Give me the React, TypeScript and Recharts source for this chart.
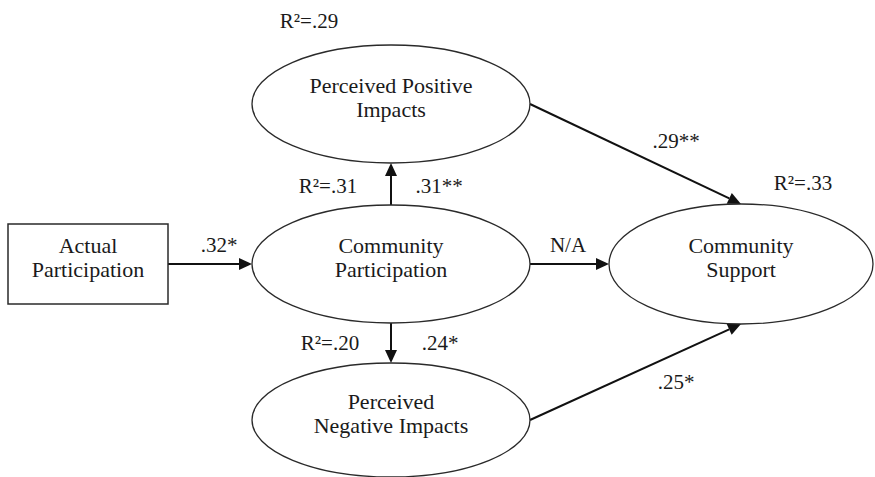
import { ScatterChart, Scatter, XAxis, YAxis, ReferenceLine } from "recharts";

const W = 875;
const H = 477;

// nodes of the path model (diagram units = pixels, y runs downward)
const nodeNames = [
  "Actual Participation",
  "Community Participation",
  "Perceived Positive Impacts",
  "Perceived Negative Impacts",
  "Community Support",
];
const nodeLines = [
  ["Actual", "Participation"],
  ["Community", "Participation"],
  ["Perceived Positive", "Impacts"],
  ["Perceived", "Negative Impacts"],
  ["Community", "Support"],
];
const nodeKind = ["box", "ellipse", "ellipse", "ellipse", "ellipse"];
const nodeX = [88, 391, 391, 391, 741];
const nodeY = [264, 264, 104, 420, 264];

// half sizes of each node outline
const nodeHalfW = [80, 139, 139, 139, 132];
const nodeHalfH = [40, 59, 59, 57, 60];

// paths (from -> to) and where they leave / enter
const pathFrom = [0, 1, 1, 1, 2, 3];
const pathFromSide = ["right", "top", "bottom", "right", "right", "right"];
const pathTo = [1, 2, 3, 4, 4, 4];
const pathToSide = ["left", "bottom", "top", "left", "top", "bottom"];

// coefficients and R² labels
const labelText = [
  "R\u00b2=.29",
  "R\u00b2=.31",
  ".31**",
  ".32*",
  "N/A",
  ".29**",
  "R\u00b2=.33",
  "R\u00b2=.20",
  ".24*",
  ".25*",
];
const labelX = [309, 328, 439, 219, 568, 676, 803, 330, 440, 676];
const labelY = [28, 193, 193, 252, 252, 148, 190, 350, 350, 389];

const FONT = "'Liberation Serif', 'Times New Roman', serif";

const anchor = (i: number, side: string) => {
  const x = nodeX[i];
  const y = nodeY[i];
  if (side === "left") return { x: x - nodeHalfW[i], y };
  if (side === "right") return { x: x + nodeHalfW[i], y };
  if (side === "top") return { x, y: y - nodeHalfH[i] };
  return { x, y: y + nodeHalfH[i] };
};

const nodeData = nodeNames.map((name, i) => ({
  x: nodeX[i],
  y: nodeY[i],
  name,
  idx: i,
}));

const labelData = labelText.map((text, i) => ({ x: labelX[i], y: labelY[i], text }));

const NodeShape = (props: any) => {
  const { cx, cy, payload } = props;
  const i = payload.idx;
  const lines = nodeLines[i];
  return (
    <g>
      {nodeKind[i] === "box" ? (
        <rect
          x={cx - nodeHalfW[i]}
          y={cy - nodeHalfH[i]}
          width={nodeHalfW[i] * 2}
          height={nodeHalfH[i] * 2}
          fill="none"
          stroke="#2a2a2a"
          strokeWidth={1.5}
        />
      ) : (
        <ellipse
          cx={cx}
          cy={cy}
          rx={nodeHalfW[i]}
          ry={nodeHalfH[i]}
          fill="none"
          stroke="#2a2a2a"
          strokeWidth={1.3}
        />
      )}
      {lines.map((t, k) => (
        <text
          key={k}
          x={cx}
          y={cy - 11 + k * 24}
          textAnchor="middle"
          fontFamily={FONT}
          fontSize={22}
          fill="#1a1a1a"
        >
          {t}
        </text>
      ))}
    </g>
  );
};

const LabelShape = (props: any) => {
  const { cx, cy, payload } = props;
  return (
    <text x={cx} y={cy} textAnchor="middle" fontFamily={FONT} fontSize={21} fill="#1a1a1a">
      {payload.text}
    </text>
  );
};

const Arrow = (props: any) => {
  const { x1, y1, x2, y2 } = props;
  const a = Math.atan2(y2 - y1, x2 - x1);
  const len = 13;
  const half = 6;
  const bx = x2 - len * Math.cos(a);
  const by = y2 - len * Math.sin(a);
  const px = -Math.sin(a) * half;
  const py = Math.cos(a) * half;
  return (
    <g>
      <line x1={x1} y1={y1} x2={bx} y2={by} stroke="#111" strokeWidth={2} />
      <polygon
        points={`${x2},${y2} ${bx + px},${by + py} ${bx - px},${by - py}`}
        fill="#111"
      />
    </g>
  );
};

export default function App() {
  return (
    <div style={{ position: "absolute", left: 0, top: 0, width: W, height: H, background: "#fff" }}>
      <ScatterChart width={W} height={H} margin={{ top: 0, right: 0, bottom: 0, left: 0 }}>
        <XAxis type="number" dataKey="x" domain={[0, W]} hide />
        <YAxis type="number" dataKey="y" domain={[0, H]} reversed hide />
        {pathFrom.map((f, i) => (
          <ReferenceLine
            key={i}
            segment={[anchor(f, pathFromSide[i]), anchor(pathTo[i], pathToSide[i])]}
            ifOverflow="visible"
            shape={Arrow}
          />
        ))}
        <Scatter data={nodeData} shape={NodeShape} isAnimationActive={false} />
        <Scatter data={labelData} shape={LabelShape} isAnimationActive={false} />
      </ScatterChart>
    </div>
  );
}
